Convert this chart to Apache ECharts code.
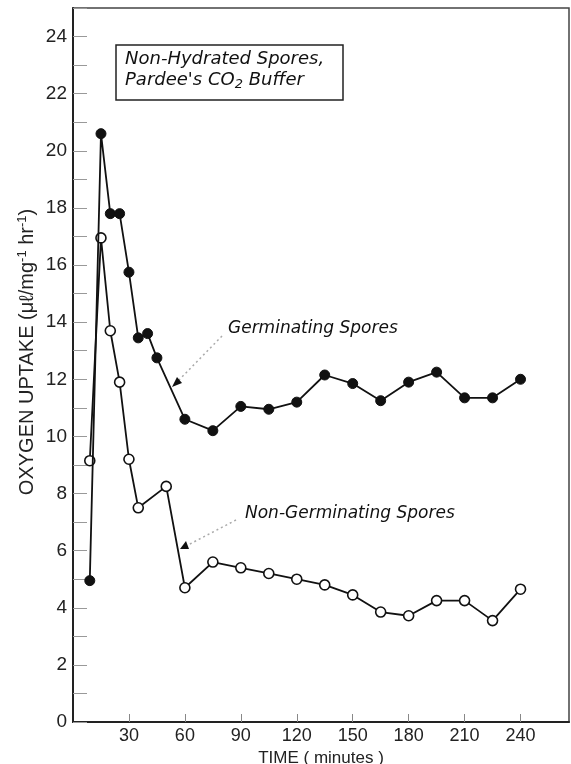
<!DOCTYPE html>
<html>
<head>
<meta charset="utf-8">
<script src="https://cdn.jsdelivr.net/npm/echarts@6/dist/echarts.min.js"></script>
<style>
html,body{margin:0;padding:0;background:#fff;}
#chart{width:571px;height:764px;}
</style>
</head>
<body>
<div id="chart"></div>
<script>
// ---- data ----
var germTimes = [9, 15, 20, 25, 30, 35, 40, 45, 60, 75, 90, 105, 120, 135, 150, 165, 180, 195, 210, 225, 240];
var germValues = [4.95, 20.6, 17.8, 17.8, 15.75, 13.45, 13.6, 12.75, 10.6, 10.2, 11.05, 10.95, 11.2, 12.15, 11.85, 11.25, 11.9, 12.25, 11.35, 11.35, 12.0];
var nonGermTimes = [9, 15, 20, 25, 30, 35, 50, 60, 75, 90, 105, 120, 135, 150, 165, 180, 195, 210, 225, 240];
var nonGermValues = [9.15, 16.95, 13.7, 11.9, 9.2, 7.5, 8.25, 4.7, 5.6, 5.4, 5.2, 5.0, 4.8, 4.45, 3.85, 3.72, 4.25, 4.25, 3.55, 4.65];
var xTicks = [30, 60, 90, 120, 150, 180, 210, 240];
var yTicks = [0, 2, 4, 6, 8, 10, 12, 14, 16, 18, 20, 22, 24];
var titleLines = ['Non-Hydrated Spores,', "Pardee's CO", '2', ' Buffer'];
var germLabel = 'Germinating Spores';
var nonGermLabel = 'Non-Germinating Spores';
var xName = 'TIME ( minutes )';
var yNameParts = ['OXYGEN UPTAKE (μℓ/mg', '-1', ' hr', '-1', ')'];

function pairs(t, v) { return t.map(function (x, i) { return [x, v[i]]; }); }

var chart = echarts.init(document.getElementById('chart'), null, {renderer: 'canvas'});
var FONT = '"Liberation Sans", Arial, sans-serif';
var IFONT = '"DejaVu Sans", sans-serif';

var option = {
  animation: false,
  backgroundColor: '#fff',
  grid: {left: 73, right: 2, top: 8, bottom: 42, show: true, borderColor: '#444', borderWidth: 1.5,
    containLabel: false, outerBoundsMode: 'none'},
  xAxis: {
    type: 'value', min: 0, max: 266, interval: 30,
    name: xName, nameLocation: 'middle', nameGap: 22,
    nameTextStyle: {fontFamily: FONT, fontSize: 17, color: '#222'},
    axisLine: {show: true, lineStyle: {color: '#222', width: 2}},
    axisTick: {show: true, inside: true, length: 8, lineStyle: {color: '#888', width: 1}},
    axisLabel: {fontFamily: FONT, fontSize: 18, color: '#222', margin: 5,
      showMinLabel: false, showMaxLabel: false,
      formatter: function (v) { return xTicks.indexOf(v) >= 0 ? String(v) : ''; }},
    splitLine: {show: false}
  },
  yAxis: {
    type: 'value', min: 0, max: 25, interval: 2,
    axisLine: {show: true, lineStyle: {color: '#222', width: 2}},
    axisTick: {show: true, inside: true, length: 14, lineStyle: {color: '#999', width: 1}},
    minorTick: {show: true, splitNumber: 2, length: 14, lineStyle: {color: '#999', width: 1}},
    axisLabel: {fontFamily: FONT, fontSize: 19, color: '#222', margin: 6, showMaxLabel: false,
      formatter: function (v) { return yTicks.indexOf(v) >= 0 ? String(v) : ''; }},
    splitLine: {show: false}
  },
  series: [
    {
      name: 'Non-Germinating', type: 'line', data: pairs(nonGermTimes, nonGermValues),
      symbol: 'circle', symbolSize: 10,
      lineStyle: {color: '#111', width: 1.8},
      itemStyle: {color: '#fff', borderColor: '#111', borderWidth: 1.6},
      z: 3
    },
    {
      name: 'Germinating', type: 'line', data: pairs(germTimes, germValues),
      symbol: 'circle', symbolSize: 10,
      lineStyle: {color: '#111', width: 1.8},
      itemStyle: {color: '#111', borderColor: '#111', borderWidth: 1},
      z: 4
    }
  ],
  graphic: [
    {type: 'text', x: 27, y: 352, rotation: Math.PI / 2, z: 11,
      style: {
        text: '{a|' + yNameParts[0] + '}{s|' + yNameParts[1] + '}{a|' + yNameParts[2] + '}{s|' + yNameParts[3] + '}{a|' + yNameParts[4] + '}',
        align: 'center', verticalAlign: 'middle',
        rich: {
          a: {font: '20px ' + FONT, fill: '#222'},
          s: {font: '13px ' + FONT, fill: '#222', padding: [0, 0, 10, 0]}
        }
      }},
    {type: 'rect', shape: {x: 116, y: 45, width: 227, height: 55},
      style: {fill: '#fff', stroke: '#222', lineWidth: 1.5}, z: 10},
    {type: 'text', left: 125, top: 50, z: 11,
      style: {text: titleLines[0], font: 'italic 18px ' + IFONT, fill: '#111'}},
    {type: 'text', left: 125, top: 71, z: 11,
      style: {rich: {
        a: {font: 'italic 18px ' + IFONT, fill: '#111'},
        b: {font: 'italic 13px ' + IFONT, fill: '#111', padding: [9, 0, 0, 0]}
      }, text: '{a|' + titleLines[1] + '}{b|' + titleLines[2] + '}{a|' + titleLines[3] + '}'}},
    {type: 'text', left: 228, top: 320, z: 11,
      style: {text: germLabel, font: 'italic 17px ' + IFONT, fill: '#111'}},
    {type: 'text', left: 245, top: 505, z: 11,
      style: {text: nonGermLabel, font: 'italic 17px ' + IFONT, fill: '#111'}},
    {type: 'line', shape: {x1: 222, y1: 336, x2: 179, y2: 380},
      style: {stroke: '#aaa', lineWidth: 1.5, lineDash: [2, 3]}, z: 11},
    {type: 'polygon', shape: {points: [[172, 387], [182, 383], [177, 377]]},
      style: {fill: '#111'}, z: 11},
    {type: 'line', shape: {x1: 236, y1: 520, x2: 188, y2: 545},
      style: {stroke: '#aaa', lineWidth: 1.5, lineDash: [2, 3]}, z: 11},
    {type: 'polygon', shape: {points: [[180, 549], [189, 549], [186, 541]]},
      style: {fill: '#111'}, z: 11}
  ]
};
chart.setOption(option);
</script>
</body>
</html>
